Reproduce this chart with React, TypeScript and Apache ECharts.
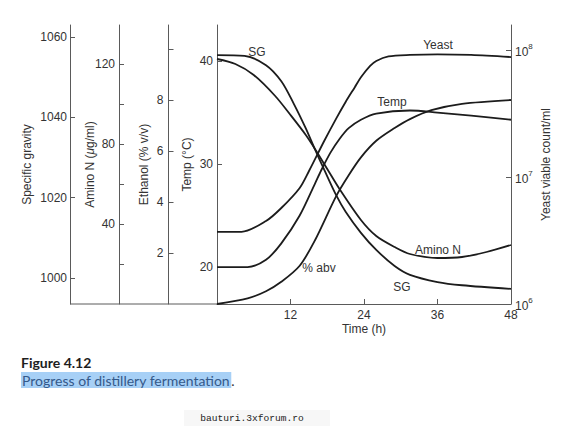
import React, { useEffect, useRef } from "react";
import * as echarts from "echarts";

// ---- data (time in hours) ----
const sgTime = [0, 4.5, 8, 10.5, 12.5, 14.5, 16, 17.5, 19.5, 21, 23.5, 26, 29, 31.5, 36, 40, 48];
const sgValue = [1055.5, 1055.3, 1053, 1049, 1043.5, 1037.25, 1032, 1027, 1020.5, 1016.5, 1011.25, 1007, 1003, 1000.8, 999, 998.2, 997.3];

const aminoTime = [0, 3, 6, 9.5, 12, 14.5, 16, 18, 20, 23.5, 26, 29, 31.5, 36, 40, 44, 48];
const aminoValue = [122.5, 120, 114.5, 104, 94.5, 84.5, 77.5, 67.5, 57.5, 42, 34, 28.5, 25, 23, 23.5, 26, 29.5];

const ethanolTime = [0, 5, 8, 10.5, 13.5, 16, 19.5, 21.5, 23.5, 26, 29, 31.5, 35, 40, 48];
const ethanolValue = [0, 0.22, 0.5, 0.87, 1.5, 2.5, 4.25, 5.05, 5.75, 6.4, 6.9, 7.25, 7.6, 7.85, 8.0];

const tempTime = [0, 5, 8, 10.5, 13.5, 16, 17, 18.5, 20, 21.5, 23.5, 26, 31.5, 36, 41.5, 48];
const tempValue = [20, 20, 20.7, 22.3, 25, 28.1, 29.37, 31.08, 32.43, 33.48, 34.3, 34.9, 35.2, 35.0, 34.7, 34.3];

const yeastTime = [0, 4, 8, 10.5, 13.5, 15, 17.5, 19.5, 21, 22.5, 23.5, 25, 26, 28, 31.5, 36, 41.5, 48];
const yeastCount = [3.7e6, 3.7e6, 4.5e6, 5.7e6, 8.2e6, 1.11e7, 1.92e7, 2.91e7, 3.9e7, 5.1e7, 6.1e7, 7.5e7, 8.2e7, 8.9e7, 9.15e7, 9.25e7, 9.15e7, 8.8e7];

// ---- ticks ----
const timeTicks = [12, 24, 36, 48];
const sgTicks = [1000, 1020, 1040, 1060];
const aminoTicks = [20, 40, 60, 80, 100, 120];
const aminoLabels = [40, 80, 120];
const ethanolTicks = [2, 4, 6, 8, 10];
const ethanolLabels = [2, 4, 6, 8];
const tempTicks = [20, 30, 40];
const yeastDecades = [6, 7, 8];

const AX = "#5a5a5a";
const TXT = "#333";
const LINE = "#1c1c1c";
const FONT = "'Liberation Sans', Arial, sans-serif";

function pairs(t: number[], v: number[], f: (x: number) => number = (x) => x) {
  return t.map((ti, i) => [ti, f(v[i])]);
}

const plain = (v: number) => String(Math.round(v * 100) / 100);

function yAx(
  offset: number,
  min: number,
  max: number,
  ticks: number[],
  labels: number[],
  name: string,
  nameGap: number,
  margin: number,
  extra: any = {}
) {
  return {
    type: "value",
    position: "left",
    offset,
    min,
    max,
    axisLine: { show: true, lineStyle: { color: AX, width: 1 } },
    axisTick: { show: true, inside: true, length: 5, customValues: ticks, lineStyle: { color: AX } },
    axisLabel: { customValues: labels, margin, color: TXT, fontSize: 12, fontFamily: FONT, formatter: plain },
    splitLine: { show: false },
    name,
    nameLocation: "middle",
    nameGap,
    nameMoveOverlap: false,
    nameTextStyle: { color: TXT, fontSize: 12, fontFamily: FONT, ...(extra.rich ? { rich: extra.rich } : {}) },
  };
}

function txt(text: string, x: number, y: number, extra: any = {}) {
  return {
    type: "text",
    x,
    y,
    silent: true,
    style: {
      text,
      fill: TXT,
      fontSize: 12,
      fontFamily: FONT,
      align: "center",
      textAlign: "center",
      verticalAlign: "middle",
      textVerticalAlign: "middle",
      ...extra,
    },
  };
}

export default function App() {
  const ref = useRef<HTMLDivElement>(null);
  useEffect(() => {
    if (!ref.current) return;
    const chart = echarts.init(ref.current, undefined, { renderer: "svg" });
    const lineStyle = { color: LINE, width: 1.8 };
    const mk = (data: number[][], yAxisIndex: number, name: string) => ({
      type: "line",
      name,
      data,
      yAxisIndex,
      smooth: 0.3,
      symbol: "none",
      showSymbol: false,
      silent: true,
      lineStyle,
    });
    chart.setOption({
      animation: false,
      backgroundColor: "#fff",
      textStyle: { fontFamily: FONT },
      grid: { left: 217, right: 69, top: 25, bottom: 122, containLabel: false },
      xAxis: {
        type: "value",
        min: 0,
        max: 48,
        interval: 12,
        axisLine: { show: true, lineStyle: { color: AX, width: 1 } },
        axisTick: { show: true, inside: true, length: 5, customValues: [12, 24, 36], lineStyle: { color: AX } },
        axisLabel: { customValues: timeTicks, margin: 5, color: TXT, fontSize: 12, fontFamily: FONT, formatter: plain },
        splitLine: { show: false },
        name: "Time (h)",
        nameLocation: "middle",
        nameGap: 19,
        nameMoveOverlap: false,
        nameTextStyle: { color: TXT, fontSize: 12, fontFamily: FONT },
      },
      yAxis: [
        yAx(0, 16.41, 43.5, tempTicks, tempTicks, "Temp (°C)", 24, 4),
        yAx(48.5, 0, 10.94, ethanolTicks, ethanolLabels, "Ethanol (% v/v)", 19, 5),
        yAx(98, 0, 139.5, aminoTicks, aminoLabels, "Amino N ({i|μ}g/ml)", 23, 4, {
          rich: { i: { fontStyle: "italic", fontSize: 12, fontFamily: FONT, color: TXT } },
        }),
        yAx(147, 993.53, 1063, sgTicks, sgTicks, "Specific gravity", 37, 3),
        {
          type: "value",
          position: "right",
          min: 6,
          max: 8.197,
          axisLine: { show: true, lineStyle: { color: AX, width: 1 } },
          axisTick: { show: true, inside: true, length: 5, customValues: yeastDecades, lineStyle: { color: AX } },
          axisLabel: {
            customValues: yeastDecades,
            margin: 4,
            color: TXT,
            fontFamily: FONT,
            formatter: (v: number) => `{b|10}{s|${Math.round(v)}}`,
            rich: {
              b: { fontSize: 12, lineHeight: 16, verticalAlign: "bottom", color: TXT, fontFamily: FONT },
              s: { fontSize: 8, lineHeight: 9, verticalAlign: "top", color: TXT, fontFamily: FONT },
            },
          },
          splitLine: { show: false },
          name: "Yeast viable count/ml",
          nameLocation: "middle",
          nameGap: 29,
          nameMoveOverlap: false,
          nameTextStyle: { color: TXT, fontSize: 12, fontFamily: FONT },
        },
      ],
      series: [
        mk(pairs(tempTime, tempValue), 0, "Temp"),
        mk(pairs(ethanolTime, ethanolValue), 1, "% abv"),
        mk(pairs(aminoTime, aminoValue), 2, "Amino N"),
        mk(pairs(sgTime, sgValue), 3, "SG"),
        mk(pairs(yeastTime, yeastCount, (c) => Math.log10(c)), 4, "Yeast"),
      ],
      graphic: [
        { type: "line", silent: true, shape: { x1: 70, y1: 304, x2: 217, y2: 304 }, style: { stroke: AX, lineWidth: 1 } },
        txt("SG", 257, 52),
        txt("Yeast", 438, 45),
        txt("Temp", 392, 102),
        txt("Amino N", 438, 250),
        txt("SG", 402, 287),
        txt("% abv", 319, 268),
        {
          type: "text",
          x: 21,
          y: 362,
          silent: true,
          style: {
            text: "Figure 4.12",
            fill: "#1e1e1e",
            fontSize: 14,
            fontWeight: "bold",
            fontFamily: "Lato, 'Open Sans', sans-serif",
            align: "left",
            textAlign: "left",
            verticalAlign: "middle",
            textVerticalAlign: "middle",
          },
        },
        {
          type: "text",
          x: 21,
          y: 380,
          silent: true,
          style: {
            text: "{h|Progress of distillery fermentation}{p|.}",
            align: "left",
            textAlign: "left",
            verticalAlign: "middle",
            textVerticalAlign: "middle",
            rich: {
              h: {
                fontSize: 14,
                fontFamily: "Lato, 'Open Sans', sans-serif",
                fill: "#34598a",
                color: "#34598a",
                backgroundColor: "#a7d0f6",
                padding: [1, 1, 1, 1],
                lineHeight: 16,
              },
              p: {
                fontSize: 14,
                fontFamily: "Lato, 'Open Sans', sans-serif",
                fill: "#333",
                color: "#333",
                lineHeight: 16,
              },
            },
          },
        },
        {
          type: "rect",
          silent: true,
          shape: { x: 184, y: 410, width: 146, height: 16 },
          style: { fill: "#f7f7f7" },
        },
        txt("bauturi.3xforum.ro", 252, 418, {
          fontFamily: "'Liberation Mono', 'DejaVu Sans Mono', monospace",
          fontSize: 9.6,
          fill: "#222",
        }),
      ],
    });
    return () => chart.dispose();
  }, []);
  return (
    <div
      ref={ref}
      style={{ position: "absolute", left: 0, top: 0, width: 580, height: 426, background: "#fff" }}
    />
  );
}
